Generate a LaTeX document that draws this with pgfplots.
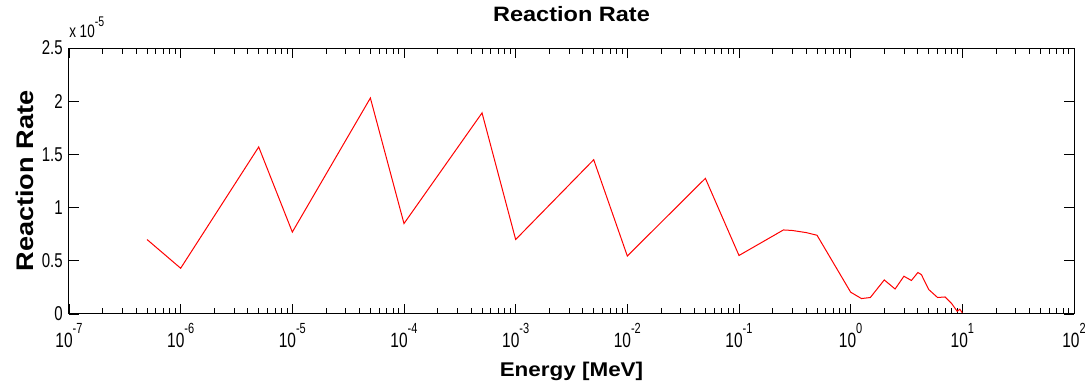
\documentclass[border=0pt]{standalone}
\usepackage{fontspec}
\usepackage{pgfplots}
\pgfplotsset{compat=1.18}
\setmainfont{Liberation Sans}
% narrow regular face for tick labels, wide bold face for titles
\newfontfamily\tickfont[FakeStretch=0.75]{Liberation Sans}
\newfontfamily\labfont[FakeStretch=1.13]{Liberation Sans Bold}

% power-of-ten tick label with a raised exponent
\newcommand{\pten}[1]{10\raisebox{10.5pt}{\fontsize{11}{11}\selectfont #1}}

\pgfplotstableread{
energy    rate
5e-7      0.70e-5
1e-6      0.43e-5
5e-6      1.57e-5
1e-5      0.77e-5
5e-5      2.03e-5
1e-4      0.85e-5
5e-4      1.89e-5
1e-3      0.70e-5
5e-3      1.45e-5
1e-2      0.545e-5
5e-2      1.275e-5
1e-1      0.55e-5
0.25      0.79e-5
0.3       0.785e-5
0.4       0.765e-5
0.5       0.74e-5
1.0       0.205e-5
1.25      0.145e-5
1.5       0.155e-5
2.0       0.32e-5
2.5       0.235e-5
3.0       0.355e-5
3.5       0.315e-5
4.0       0.39e-5
4.3       0.37e-5
5.0       0.23e-5
6.0       0.155e-5
7.0       0.16e-5
8.0       0.10e-5
9.0       0.025e-5
9.5       0.045e-5
10        0.01e-5
}\ratedata

\begin{document}
\begin{tikzpicture}
\begin{axis}[
  scale only axis,
  width=753.75pt, height=199.5pt,
  xmode=log,
  xmin=1e-7, xmax=1e2,
  ymin=0, ymax=2.5e-5,
  axis line style={black, line width=0.75pt},
  every tick/.style={black, line width=0.6pt},
  tick align=inside,
  major tick length=7.5pt,
  minor tick length=4.5pt,
  xtick={1e-7,1e-6,1e-5,1e-4,1e-3,1e-2,1e-1,1,10,100},
  xticklabels={\pten{-7},\pten{-6},\pten{-5},\pten{-4},\pten{-3},\pten{-2},\pten{-1},\pten{0},\pten{1},\pten{2}},
  ytick={0,0.5e-5,1e-5,1.5e-5,2e-5,2.5e-5},
  yticklabels={0,0.5,1,1.5,2,2.5},
  scaled y ticks=false,
  minor y tick num=0,
  xticklabel style={font=\tickfont\fontsize{15.5}{15.5}\selectfont, anchor=base, inner sep=0pt, yshift=-24.75pt},
  yticklabel style={font=\tickfont\fontsize{15}{15}\selectfont, anchor=east, inner sep=0pt, xshift=-4.5pt},
  title={Reaction Rate},
  title style={at={(axis description cs:0.5,1.0677)}, anchor=base, inner sep=0pt,
               font=\labfont\fontsize{15.6}{16}\selectfont},
  xlabel={Energy [MeV]},
  xlabel style={at={(axis description cs:0.5,-0.2368)}, anchor=base, inner sep=0pt,
                font=\labfont\fontsize{14.9}{15}\selectfont},
  ylabel={Reaction Rate},
  ylabel style={at={(axis description cs:-0.0358,0.5)}, anchor=base, rotate=0, inner sep=0pt,
                font=\labfont\fontsize{18}{18}\selectfont},
  after end axis/.code={
    \node[anchor=base west, inner sep=0pt, font=\tickfont\fontsize{13.5}{13.5}\selectfont]
      at ([yshift=7.5pt]rel axis cs:0,1) {x 10\raisebox{8.5pt}{\fontsize{10.5}{10.5}\selectfont -5}};
  },
]
\addplot[red, line width=0.75pt, no markers, sharp plot] table[x=energy, y=rate] {\ratedata};
\end{axis}
\pgfresetboundingbox
\useasboundingbox (-51.75pt,-53.25pt) rectangle (762pt,235.5pt);
\end{tikzpicture}
\end{document}
